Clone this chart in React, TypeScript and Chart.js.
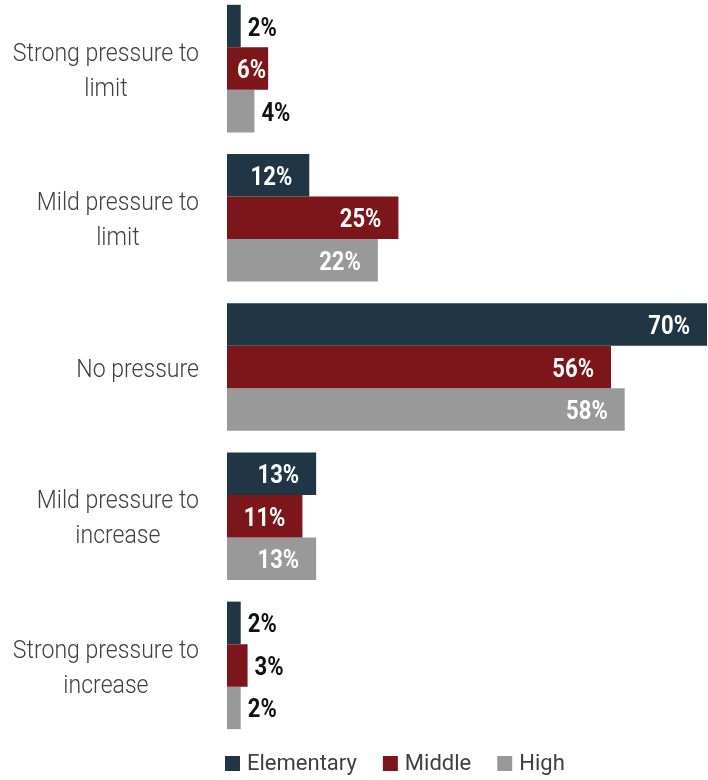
import React, { useEffect, useRef } from "react";
import { Chart, registerables } from "chart.js";

Chart.register(...registerables);

const categories: string[][] = [
  ["Strong pressure to", "limit"],
  ["Mild pressure to", "limit"],
  ["No pressure"],
  ["Mild pressure to", "increase"],
  ["Strong pressure to", "increase"],
];
const seriesNames = ["Elementary", "Middle", "High"];
const elementary = [2, 12, 70, 13, 2];
const middle = [6, 25, 56, 11, 3];
const high = [4, 22, 58, 13, 2];
const colors = ["#203645", "#7C161B", "#999999"];

function drawCondensed(
  ctx: CanvasRenderingContext2D,
  text: string,
  x: number,
  y: number,
  align: CanvasTextAlign,
  sx: number
) {
  ctx.save();
  ctx.translate(x, y);
  ctx.scale(sx, 1);
  ctx.textAlign = align;
  ctx.fillText(text, 0, 0);
  ctx.restore();
}

const labelsPlugin = {
  id: "customLabels",
  afterDatasetsDraw(chart: any) {
    const ctx: CanvasRenderingContext2D = chart.ctx;
    const sx = 0.85;
    ctx.save();
    ctx.font = "bold 26px Roboto";
    ctx.textBaseline = "middle";
    chart.data.datasets.forEach((ds: any, di: number) => {
      const meta = chart.getDatasetMeta(di);
      meta.data.forEach((el: any, i: number) => {
        const v = ds.data[i];
        const text = v + "%";
        const w = ctx.measureText(text).width * sx;
        const barStart = el.base;
        const barEnd = el.x;
        if (v >= 5) {
          let right = Math.max(barEnd - 17, barStart + 10 + w);
          right = Math.min(right, barEnd - 1);
          ctx.fillStyle = "#ffffff";
          drawCondensed(ctx, text, right, el.y + 3, "right", sx);
        } else {
          ctx.fillStyle = "#111111";
          drawCondensed(ctx, text, barEnd + 7, el.y + 3, "left", sx);
        }
      });
    });
    ctx.restore();
  },
  afterDraw(chart: any) {
    const ctx: CanvasRenderingContext2D = chart.ctx;
    const yScale = chart.scales.y;
    // category labels
    const sx = 0.87;
    ctx.save();
    ctx.font = "300 26.5px Roboto";
    ctx.fillStyle = "#404040";
    ctx.textBaseline = "middle";
    categories.forEach((lines, i) => {
      const cy = yScale.getPixelForValue(i) + 3;
      const maxW = Math.max(...lines.map((l) => ctx.measureText(l).width * sx));
      const cx = 199 - maxW / 2;
      lines.forEach((line, li) => {
        const y = cy + (li - (lines.length - 1) / 2) * 35;
        drawCondensed(ctx, line, cx, y, "center", sx);
      });
    });
    ctx.restore();

    // legend
    ctx.save();
    ctx.font = "400 22px Roboto";
    ctx.textBaseline = "middle";
    let x = 225;
    const boxY = chart.chartArea.bottom + 16;
    seriesNames.forEach((name, i) => {
      ctx.fillStyle = colors[i];
      ctx.fillRect(x, boxY, 15, 15);
      ctx.fillStyle = "#404040";
      ctx.textAlign = "left";
      ctx.fillText(name, x + 22, boxY + 8);
      x += 22 + ctx.measureText(name).width + 26;
    });
    ctx.restore();
  },
};

export default function App() {
  const ref = useRef<HTMLCanvasElement>(null);
  useEffect(() => {
    if (!ref.current) return;
    const chart = new Chart(ref.current, {
      type: "bar",
      data: {
        labels: categories.map((c) => c.join(" ")),
        datasets: [
          { label: seriesNames[0], data: elementary, backgroundColor: colors[0] },
          { label: seriesNames[1], data: middle, backgroundColor: colors[1] },
          { label: seriesNames[2], data: high, backgroundColor: colors[2] },
        ].map((d) => ({ ...d, barPercentage: 1, categoryPercentage: 0.855 })),
      },
      options: {
        indexAxis: "y",
        responsive: false,
        animation: false,
        devicePixelRatio: 1,
        layout: { padding: { left: 227, right: 1, top: 0, bottom: 40 } },
        scales: {
          x: { display: false, min: 0, max: 70 },
          y: { display: false, grid: { display: false } },
        },
        plugins: {
          legend: { display: false },
          tooltip: { enabled: false },
        },
      },
      plugins: [labelsPlugin],
    } as any);
    return () => chart.destroy();
  }, []);
  return (
    <div
      style={{
        position: "absolute",
        left: 0,
        top: 0,
        width: 708,
        height: 780,
        overflow: "hidden",
        background: "#ffffff",
      }}
    >
      <canvas
        ref={ref}
        width={708}
        height={786}
        style={{ position: "absolute", left: 0, top: -6, width: 708, height: 786 }}
      />
    </div>
  );
}
